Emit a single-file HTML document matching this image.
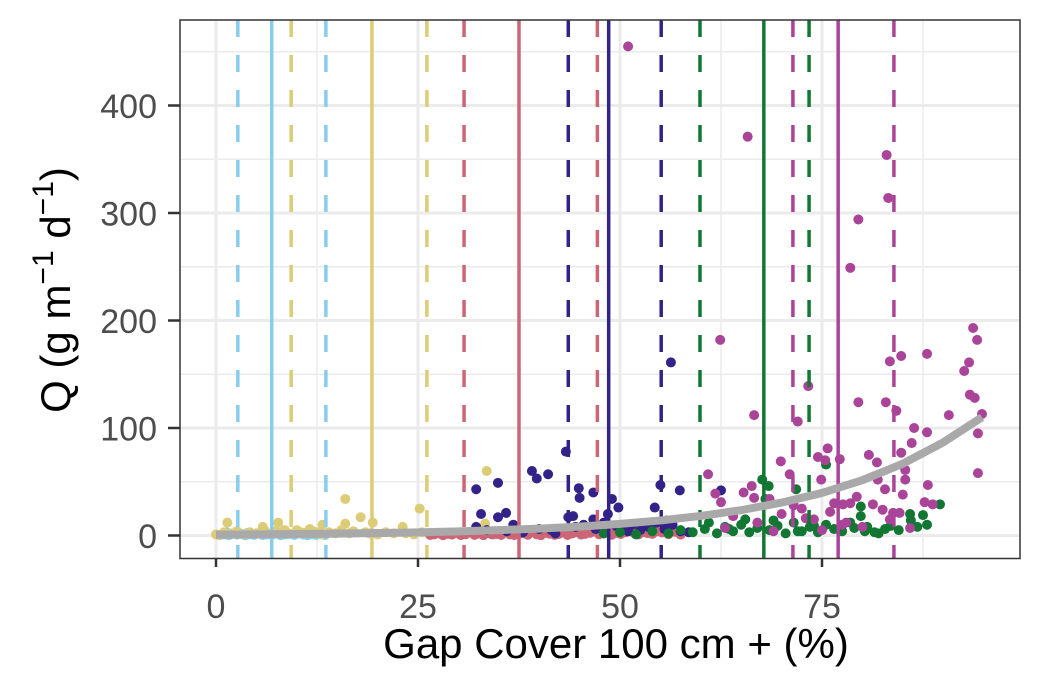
<!DOCTYPE html>
<html><head><meta charset="utf-8">
<style>
html,body{margin:0;padding:0;background:#fff;}
svg{display:block;font-family:"Liberation Sans",Arial,sans-serif;}
</style></head>
<body>
<svg id="chart" width="1043" height="689" viewBox="0 0 1043 689" xmlns="http://www.w3.org/2000/svg">
<rect x="0" y="0" width="1043" height="689" fill="#fff"/>
<g id="grid"></g>
<g id="points"></g>
<g id="vlines"></g>
<g id="curve"></g>
<rect x="180" y="20" width="840" height="538.5" fill="none" stroke="#333" stroke-width="1.5"/>
<g id="axes"></g>
<text x="616" y="658" text-anchor="middle" font-size="42" fill="#000">Gap Cover 100 cm + (%)</text>
<text transform="translate(70,290) rotate(-90)" text-anchor="middle" font-size="42" fill="#000">Q (g m<tspan dy="-17" font-size="30">−1</tspan><tspan dy="17"> d</tspan><tspan dy="-17" font-size="30">−1</tspan><tspan dy="17">)</tspan></text>
</svg>
<script>
const xTicks=[0,25,50,75];
const yTicks=[0,100,200,300,400];
const xMinor=[12.5,37.5,62.5,87.5];
const yMinor=[50,150,250,350,450];
// reference lines: value, colour, solid?
const vlineX=[2.7,6.9,13.6,9.3,19.3,26.1,30.7,37.5,47.2,43.6,48.6,55.1,59.9,67.8,73.4,71.4,77.0,83.9];
const vlineColor=["#88CCEE","#88CCEE","#88CCEE","#DDCC77","#DDCC77","#DDCC77","#CC6677","#CC6677","#CC6677","#332288","#332288","#332288","#117733","#117733","#117733","#AA4499","#AA4499","#AA4499"];
const vlineSolid=[0,1,0,0,1,0,0,1,0,0,1,0,0,1,0,0,1,0];
// fitted curve readings
const curveX=[0,5,10,15,20,25,30,35,40,45,50,55,60,65,70,75,80,85,90,94.8];
const curveY=[0.8,1.04,1.35,1.75,2.3,2.9,3.8,5,6.4,8.3,10.8,14,18.2,23.6,30.6,39.6,51.5,66.8,86.6,110];
// point groups
const lbX=[0.5,1,1.6,2.1,2.6,3.1,3.6,4.2,4.7,5.2,5.8,6.3,6.9,7.4,8,8.6,9.1,9.7,10.2,10.8,11.3,11.9,12.4,13,13.5,1.3,3.9,6.1,8.3,11.1];
const lbY=[0.5,1,0.3,2,0.8,1.5,0.2,1.2,0.6,2.2,0.4,1,0.7,1.8,0.3,0.9,1.4,0.5,2,0.8,0.3,1.1,0.6,1.6,0.4,3,2.5,2.8,1.9,2.6];
const yeX=[0,0.3,1.4,1,2,2.6,3.5,4.2,5,5.8,6,6.8,7.3,7.7,8,8.5,9,10,10.5,11,11.6,12,12.5,13.2,13,14,14.8,15.5,16,16,16.5,17,17.9,18.5,19.4,19,20,21,22,23.1,23.5,24.5,25.2,25.5,26.5,33.5,33.3];
const yeY=[1,0.5,12,3,2,4,1,3,2,8,5,2,4,12,3,5,2,5,3,2,6,4,3,10,1,3,2,5,34,11,2,4,17,3,12,2,1,3,2,8,2,1,25,3,1,60,11];
const piX=[26.5,27,27.6,28.1,28.7,29.2,29.8,30.3,30.9,31.4,32,32.5,33.1,33.6,34.2,34.7,35.3,35.8,36.4,36.9,37.5,38,38.6,39.1,39.7,40.2,40.8,41.3,41.9,42.4,43,43.5,44.1,44.6,45.2,45.7,46.3,46.8,47.4,47.9,48.5,49,49.6,50.1,50.7,51.2,51.8,52.3,52.9,53.4,54,54.6,55.2,56,56.8,44,47,50.5,53.6,57.5];
const piY=[0.5,1,2,0.3,1.5,0.8,2.5,0.4,1.2,3,0.6,1.8,0.3,2.2,0.9,1.4,0.5,2.8,1,0.4,1.6,2,0.7,3.5,1.1,0.3,2.4,1.7,0.6,1.3,2.9,0.5,1.9,3.2,0.8,1.5,2.6,4,1.2,2,3.8,0.7,2.5,1.4,3,4.5,2,1,3.3,2.2,1.5,4,2.8,1.2,3.5,5,4.8,3,5,0.8];
const dbX=[32.2,34.9,39.1,39.7,41.1,43.3,44.9,45,46.7,32.8,34.9,35.9,32.2,43.6,44.2,46.7,55,57.4,49,49.8,54.3,48.5,56.3,62.5,33.5,36,38,40,42,44.5,45.5,47,48,49.5,50.5,51.5,52.5,53.5,54.5,55.5,56.5,57.5,58.5,36.8,41.5,51,53,55.8];
const dbY=[43,49,60,53,57,78,44,35,40,20,17,21,8,17,18,15,47,42,34,26,26,20,161,42,5,4,3,6,2,8,10,6,12,9,7,10,5,8,12,6,10,4,3,10,5,4,11,14];
const grX=[89.6,87.5,85.9,86.8,79.8,79.8,80.6,80.3,82.8,75.5,71.8,68.4,67.6,68,48,50,52,54,56,57.5,59,60.5,62,63,64,65,66,67,68.5,69.5,70.5,71.5,72.5,73.5,74.5,75.5,76.5,77.5,78.5,81.5,83.5,84.5,86,88,61,63.5,65.5,69,72,74,79,82];
const grY=[29,19,20,8,27,18,8,4,6,66,43,46,52,34,2,3,1,4,2,5,3,6,2,8,4,10,3,7,5,9,2,12,4,8,3,10,6,4,12,3,9,5,14,10,12,6,15,14,4,9,7,2];
const puX=[51,65.8,83,83.2,79.5,78.5,62.4,83.4,84.8,88,93.7,94.2,93.2,92.6,93.3,93.9,94.8,90.7,94.3,94.3,79.5,82.9,84.2,73.3,72,66.6,86.4,88,86.1,84.8,80.8,81.8,85.3,85.3,85,88.1,81.9,82.8,75.7,74.5,75.4,69.9,71,74.9,77.2,60.9,61.8,62.5,65.3,66.3,66.6,79.3,76.5,77.6,87.7,88.7,83.8,84.6,83.4,85.9,81.3,82.5,64,67,70,72.5,74,76,77.5,78.5,80,71.5,73,68.5,75,78,63,69];
const puY=[455,371,354,314,294,249,182,162,167,169,193,182,161,153,131,128,113,112,95,58,124,124,116,139,106,112,100,96,86,77,75,68,61,52,38,47,52,43,81,73,70,69,57,52,71,57,39,31,40,46,35,36,30,29,31,29,21,21,15,7,29,24,18,12,20,25,15,22,10,30,8,28,16,34,5,12,7,4];
const groups=[[lbX,lbY,"#88CCEE","light-blue"],[yeX,yeY,"#DDCC77","yellow"],[piX,piY,"#CC6677","pink"],[dbX,dbY,"#332288","dark-blue"],[grX,grY,"#117733","green"],[puX,puY,"#AA4499","purple"]];

const NS="http://www.w3.org/2000/svg";
const sx=v=>216+v*8.08;
const sy=v=>535.5-v*1.075;
function mk(tag,attrs,parent){const e=document.createElementNS(NS,tag);for(const k in attrs)e.setAttribute(k,attrs[k]);parent.appendChild(e);return e;}
const grid=document.getElementById('grid');
xMinor.forEach(v=>{const l=mk('line',{x1:sx(v),x2:sx(v),y1:20,y2:558,stroke:'#EBEBEB','stroke-width':1.5},grid);

});
yMinor.forEach(v=>{const l=mk('line',{x1:180,x2:1020,y1:sy(v),y2:sy(v),stroke:'#EBEBEB','stroke-width':1.5},grid);

});
xTicks.forEach(v=>{const l=mk('line',{x1:sx(v),x2:sx(v),y1:20,y2:558,stroke:'#EBEBEB','stroke-width':3},grid);

});
yTicks.forEach(v=>{const l=mk('line',{x1:180,x2:1020,y1:sy(v),y2:sy(v),stroke:'#EBEBEB','stroke-width':3},grid);

});

const pts=document.getElementById('points');
groups.forEach(g=>{const [xs,ys,col,nm]=g;xs.forEach((x,i)=>{const c=mk('circle',{cx:sx(x),cy:sy(ys[i]),r:5,fill:col},pts);

});});

const vl=document.getElementById('vlines');
vlineX.forEach((v,i)=>{const a={x1:sx(v),x2:sx(v),y1:20,y2:558,stroke:vlineColor[i],'stroke-width':3.5};if(!vlineSolid[i])a['stroke-dasharray']='17 18';
const l=mk('line',a,vl);

});

const cv=document.getElementById('curve');
const p=mk('polyline',{points:curveX.map((x,i)=>sx(x)+','+sy(curveY[i])).join(' '),fill:'none',stroke:'#A9A9A9','stroke-width':8,'stroke-linejoin':'round'},cv);



const ax=document.getElementById('axes');
xTicks.forEach(v=>{const t=mk('line',{x1:sx(v),x2:sx(v),y1:558.5,y2:567,stroke:'#333','stroke-width':2.5},ax);


const l=mk('text',{x:sx(v),y:618,'text-anchor':'middle','font-size':34,fill:'#4D4D4D'},ax);l.textContent=v;

});
yTicks.forEach(v=>{const t=mk('line',{x1:168,x2:180,y1:sy(v),y2:sy(v),stroke:'#333','stroke-width':2.5},ax);


const l=mk('text',{x:157,y:sy(v)+12.5,'text-anchor':'end','font-size':34,fill:'#4D4D4D'},ax);l.textContent=v;

});
</script>
</body></html>
